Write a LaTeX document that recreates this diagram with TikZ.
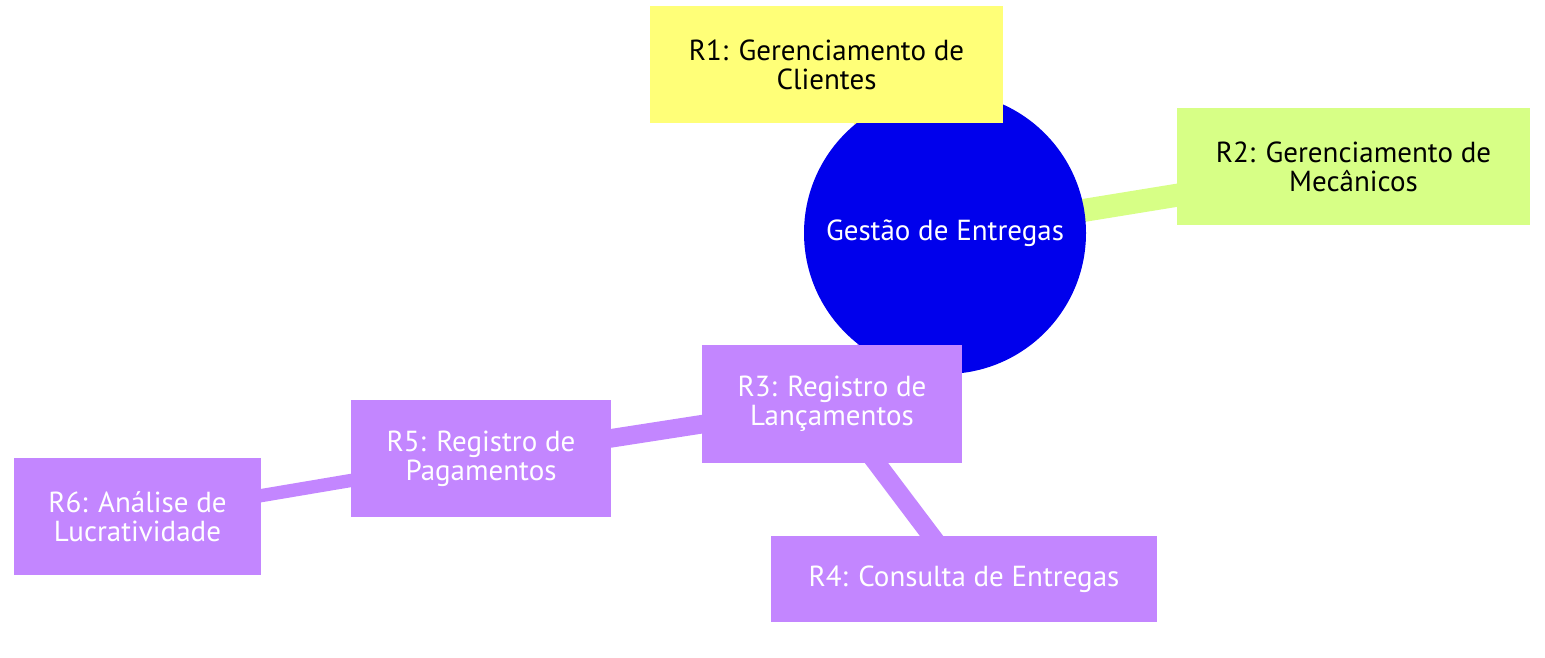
\documentclass[tikz,border=0pt]{standalone}
\usepackage{fontspec}
\setmainfont{PT Sans}
\definecolor{rootblue}{HTML}{0000EC}
\definecolor{secyellow}{HTML}{FFFF78}
\definecolor{secgreen}{HTML}{D7FF86}
\definecolor{secpurple}{HTML}{C386FF}
\begin{document}
\begin{tikzpicture}[x=1pt,y=-1pt,
  box/.style={rectangle, draw=none, inner sep=0pt, align=center,
    font=\fontsize{29}{29}\selectfont},
  edge0/.style={line width=23pt},
  edge1/.style={line width=18.6pt},
  edge2/.style={line width=13.3pt}]
\useasboundingbox (0,0) rectangle (1545,657);
% node positions
\coordinate (pRoot) at (945,233);
\coordinate (p1) at (826.5,64.5);
\coordinate (p2) at (1353.5,166.5);
\coordinate (p3) at (832,404);
\coordinate (p4) at (964,579);
\coordinate (p5) at (481,458.5);
\coordinate (p6) at (137.5,516.5);
% edges
\draw[edge0, secyellow] (pRoot) -- (p1);
\draw[edge0, secgreen] (pRoot) -- (p2);
\draw[edge0, secpurple] (pRoot) -- (p3);
\draw[edge1, secpurple] (p3) -- (p4);
\draw[edge1, secpurple] (p3) -- (p5);
\draw[edge2, secpurple] (p5) -- (p6);
% nodes
\node[circle, fill=rootblue, minimum size=282pt, inner sep=0pt, text=white,
  font=\fontsize{29}{29}\selectfont] (root) at (pRoot) {Gestão de Entregas};
\node[box, fill=secyellow, minimum width=353pt, minimum height=117pt] (r1) at (p1)
  {R1: Gerenciamento de\\Clientes};
\node[box, fill=secgreen, minimum width=353pt, minimum height=117pt] (r2) at (p2)
  {R2: Gerenciamento de\\Mecânicos};
\node[box, fill=secpurple, text=white, minimum width=260pt, minimum height=118pt] (r3) at (p3)
  {R3: Registro de\\Lançamentos};
\node[box, fill=secpurple, text=white, minimum width=386pt, minimum height=86pt] (r4) at (p4)
  {R4: Consulta de Entregas};
\node[box, fill=secpurple, text=white, minimum width=260pt, minimum height=117pt] (r5) at (p5)
  {R5: Registro de\\Pagamentos};
\node[box, fill=secpurple, text=white, minimum width=247pt, minimum height=117pt] (r6) at (p6)
  {R6: Análise de\\Lucratividade};
\end{tikzpicture}
\end{document}
